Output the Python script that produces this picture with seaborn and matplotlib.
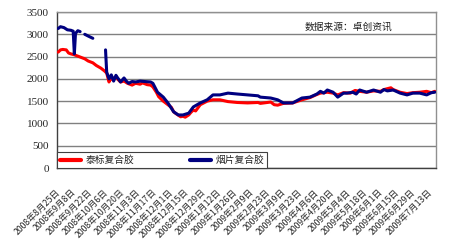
import numpy as np
import pandas as pd
import matplotlib
matplotlib.use("Agg")
import matplotlib.pyplot as plt
import seaborn as sns

# ---- data ----
red_name = "泰标复合胶"
blue_name = "烟片复合胶"
source_text = "数据来源：卓创资讯"

red_dates = ["2008-08-25", "2008-08-27", "2008-08-29", "2008-09-01", "2008-09-03", "2008-09-05",
             "2008-09-08", "2008-09-10", "2008-09-13", "2008-09-17", "2008-09-20", "2008-09-24",
             "2008-09-27", "2008-10-01", "2008-10-04", "2008-10-06", "2008-10-08", "2008-10-09",
             "2008-10-11", "2008-10-14", "2008-10-16", "2008-10-18", "2008-10-21", "2008-10-24",
             "2008-10-28", "2008-10-31", "2008-11-04", "2008-11-06", "2008-11-10", "2008-11-13",
             "2008-11-15", "2008-11-18", "2008-11-20", "2008-11-24", "2008-11-28", "2008-12-01",
             "2008-12-03", "2008-12-05", "2008-12-09", "2008-12-11", "2008-12-13", "2008-12-16",
             "2008-12-18", "2008-12-20", "2008-12-22", "2008-12-24", "2008-12-26", "2008-12-29",
             "2009-01-01", "2009-01-06", "2009-01-12", "2009-01-19", "2009-01-27", "2009-02-05",
             "2009-02-14", "2009-02-16", "2009-02-25", "2009-02-28", "2009-03-03", "2009-03-08",
             "2009-03-16", "2009-03-24", "2009-03-31", "2009-04-06", "2009-04-09", "2009-04-15",
             "2009-04-20", "2009-04-24", "2009-04-29", "2009-05-05", "2009-05-09", "2009-05-13",
             "2009-05-19", "2009-05-25", "2009-05-31", "2009-06-03", "2009-06-06", "2009-06-09",
             "2009-06-11", "2009-06-17", "2009-06-23", "2009-06-28", "2009-07-04", "2009-07-10",
             "2009-07-14", "2009-07-17"]
red_values = [2600, 2650, 2660, 2650, 2580, 2560,
              2540, 2520, 2490, 2450, 2400, 2360,
              2300, 2240, 2180, 2130, 1930, 1980,
              2000, 2040, 1980, 1930, 1950, 1900,
              1860, 1900, 1880, 1910, 1870, 1860,
              1820, 1700, 1600, 1500, 1420, 1360,
              1260, 1220, 1150, 1160, 1140, 1190,
              1250, 1300, 1280, 1350, 1420, 1460,
              1500, 1530, 1530, 1490, 1470, 1460,
              1470, 1450, 1480, 1420, 1410, 1450,
              1460, 1530, 1580, 1650, 1680, 1700,
              1680, 1640, 1690, 1680, 1740, 1720,
              1700, 1730, 1720, 1760, 1780, 1800,
              1760, 1700, 1670, 1690, 1700, 1720,
              1690, 1720]

blue_dates = ["2008-08-25", "2008-08-27", "2008-08-30", "2008-09-02", "2008-09-05", "2008-09-07",
              "2008-09-08", "2008-09-09", "2008-09-11", "2008-09-13",
              "2008-09-17", "2008-09-20", "2008-09-24",
              "2008-10-05", "2008-10-06", "2008-10-08", "2008-10-10", "2008-10-12", "2008-10-14",
              "2008-10-15", "2008-10-18", "2008-10-21", "2008-10-23", "2008-10-25", "2008-10-28",
              "2008-10-31", "2008-11-04", "2008-11-08", "2008-11-13", "2008-11-15", "2008-11-19",
              "2008-11-24", "2008-11-28", "2008-12-03", "2008-12-07", "2008-12-11", "2008-12-16",
              "2008-12-20", "2008-12-26", "2009-01-01", "2009-01-06", "2009-01-12", "2009-01-19",
              "2009-01-27", "2009-02-05", "2009-02-14", "2009-02-16", "2009-02-25", "2009-03-03",
              "2009-03-08", "2009-03-16", "2009-03-24", "2009-03-31", "2009-04-06", "2009-04-09",
              "2009-04-12", "2009-04-15", "2009-04-20", "2009-04-24", "2009-04-29", "2009-05-02",
              "2009-05-07", "2009-05-10", "2009-05-13", "2009-05-19", "2009-05-25", "2009-05-31",
              "2009-06-03", "2009-06-06", "2009-06-11", "2009-06-17", "2009-06-23", "2009-06-28",
              "2009-07-04", "2009-07-10", "2009-07-14", "2009-07-17"]
blue_values = [3130, 3170, 3150, 3100, 3090, 3070,
               2560, 3020, 3080, 3060,
               3000, 2960, 2910,
               2650, 2150, 2000, 2090, 1950, 2080,
               2040, 1930, 2020, 1950, 1900, 1940,
               1930, 1950, 1940, 1930, 1900, 1700,
               1590, 1460, 1260, 1190, 1190, 1230,
               1370, 1460, 1530, 1640, 1640, 1680,
               1660, 1640, 1620, 1590, 1570, 1530,
               1460, 1460, 1570, 1590, 1660, 1720,
               1680, 1750, 1700, 1590, 1680, 1680,
               1700, 1660, 1750, 1700, 1750, 1700,
               1760, 1730, 1750, 1680, 1640, 1680,
               1680, 1640, 1690, 1700]
# blue series has gaps in the source: segment ids
blue_segments = [0] * 10 + [1] * 3 + [2] * (len(blue_values) - 13)

yticks = [0, 500, 1000, 1500, 2000, 2500, 3000, 3500]
tick_start = "2008-08-25"
tick_end = "2009-07-13"

# ---- build table ----
df = pd.concat([
    pd.DataFrame({"date": pd.to_datetime(red_dates), "value": red_values,
                  "series": red_name, "seg": "r0"}),
    pd.DataFrame({"date": pd.to_datetime(blue_dates), "value": blue_values,
                  "series": blue_name, "seg": ["b%d" % s for s in blue_segments]}),
], ignore_index=True)

sns.set_theme(style="white")
plt.rcParams["font.family"] = ["Noto Sans CJK SC", "DejaVu Sans"]

fig = plt.figure(figsize=(4.5, 2.5), dpi=100)
ax = fig.add_axes([0.1267, 0.328, 0.842, 0.624])

palette = {red_name: "#ff0000", blue_name: "#000080"}
sns.lineplot(data=df, x="date", y="value", hue="series", units="seg", estimator=None,
             palette=palette, hue_order=[red_name, blue_name], linewidth=2.2, ax=ax,
             sort=False, legend=True, zorder=3)

ax.set_xlim(pd.Timestamp("2008-08-24"), pd.Timestamp("2009-07-18"))
ax.set_ylim(0, 3500)
ax.set_yticks(yticks)
ax.set_yticklabels([str(v) for v in yticks], family="Liberation Serif", fontsize=8)
ax.yaxis.grid(True, color="#808080", linewidth=1.0)
ax.xaxis.grid(False)
ax.tick_params(axis="y", length=0, pad=6)

ticks = pd.date_range(tick_start, tick_end, freq="14D")
ax.set_xticks(ticks)
ax.set_xticklabels([f"{d.year}年{d.month}月{d.day}日" for d in ticks],
                   rotation=45, ha="right", va="center", rotation_mode="anchor",
                   fontsize=6.3)
ax.tick_params(axis="x", length=3, width=0.8, direction="inout", pad=15, color="#404040")
ax.set_xlabel("")
ax.set_ylabel("")

for side in ["left", "bottom"]:
    ax.spines[side].set_color("#404040")
    ax.spines[side].set_linewidth(1.0)
for side in ["right", "top"]:
    ax.spines[side].set_color("#909090")
    ax.spines[side].set_linewidth(1.0)

handles, labels = ax.get_legend_handles_labels()
leg = ax.legend(handles, labels, loc="lower left", bbox_to_anchor=(0, 0, 0.554, 0.141),
                mode="expand", ncol=2, borderaxespad=0, frameon=True, fancybox=False,
                framealpha=1, edgecolor="#404040", fontsize=7, handlelength=2.2,
                handletextpad=0.4, borderpad=0.3, columnspacing=1.0)
leg.get_frame().set_linewidth(0.8)
for ln in leg.get_lines():
    ln.set_linewidth(3)

ax.text(0.654, 0.904, source_text, transform=ax.transAxes, fontsize=7,
        ha="left", va="center", color="#202020")

fig.savefig("out.png", dpi=100, facecolor="white")
